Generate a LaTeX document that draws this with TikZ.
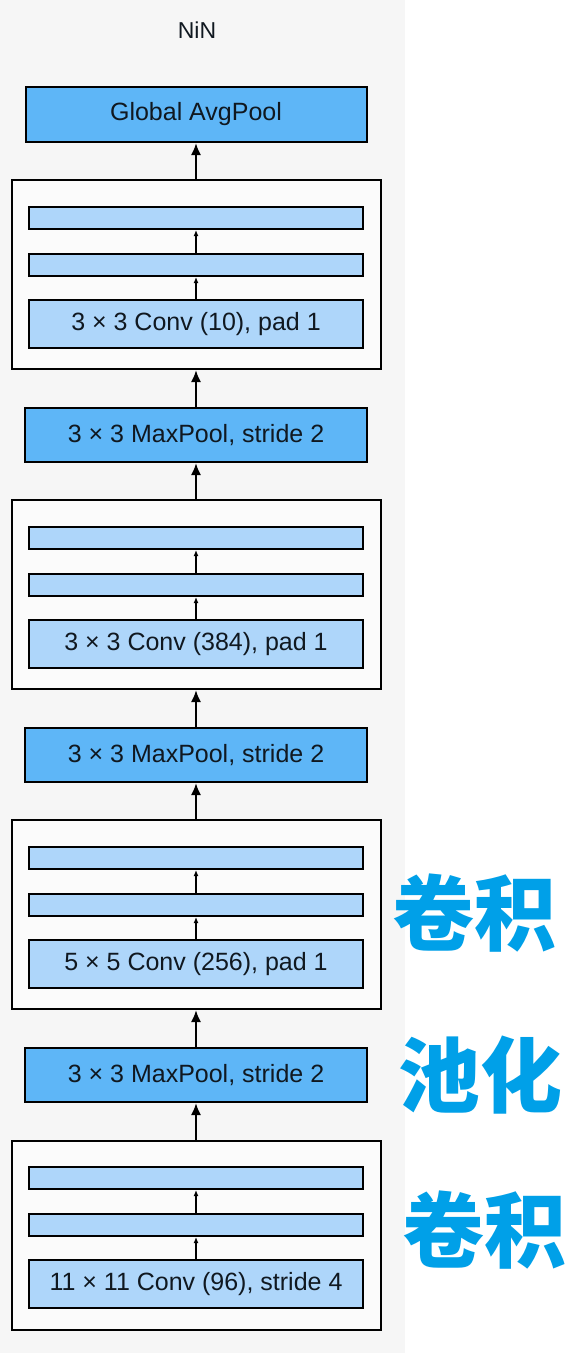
\documentclass[tikz,border=0pt]{standalone}
\usepackage{fontspec}
\setmainfont{Liberation Sans}
\newfontfamily\cjk{Noto Sans CJK SC}
\usetikzlibrary{arrows.meta}
\definecolor{bgray}{HTML}{F6F6F6}
\definecolor{darkb}{HTML}{5EB6F7}
\definecolor{lightb}{HTML}{AED6FA}
\definecolor{txt}{HTML}{101820}
\definecolor{cjkblue}{HTML}{00A0E8}
\tikzset{
  base/.style={draw=black, line width=2pt, inner sep=0pt, text=txt,
    font=\fontsize{25}{29}\selectfont},
  poolbox/.style={base, fill=darkb, minimum width=342pt, minimum height=54pt},
  convbox/.style={base, fill=lightb, minimum width=334pt, minimum height=48pt},
  barbox/.style={base, fill=lightb, minimum width=334pt, minimum height=22pt},
  blockbox/.style={draw=black, line width=2pt, fill=white!60!bgray, inner sep=0pt,
    minimum width=369pt, minimum height=189pt},
  bigarrow/.style={line width=2pt, -{Latex[length=12pt,width=10pt]}},
  smallarrow/.style={line width=1.6pt, -{Latex[length=6pt,width=5pt]}},
  cjklabel/.style={text=cjkblue, font=\cjk\bfseries\fontsize{82}{90}\selectfont, inner sep=0pt}
}
\begin{document}
\begin{tikzpicture}[x=1pt,y=-1pt]
\useasboundingbox (0,0) rectangle (570,1353);
\fill[white] (0,0) rectangle (570,1353);
\fill[bgray] (0,0) rectangle (405,1353);

\node[text=txt, font=\fontsize{23}{27}\selectfont] (title) at (197,30) {NiN};

\node[poolbox, minimum width=341pt, minimum height=55pt] (gap) at (196,114.5) {Global AvgPool};

% block 1
\node[blockbox] (b1) at (196,274.5) {};
\node[barbox] (b1a) at (196,218) {};
\node[barbox] (b1b) at (196,265) {};
\node[convbox] (b1c) at (196,324) {3 × 3 Conv (10), pad 1};

\node[poolbox] (mp1) at (196,435) {3 × 3 MaxPool, stride 2};

% block 2
\node[blockbox] (b2) at (196,594.5) {};
\node[barbox] (b2a) at (196,538) {};
\node[barbox] (b2b) at (196,585) {};
\node[convbox] (b2c) at (196,644) {3 × 3 Conv (384), pad 1};

\node[poolbox] (mp2) at (196,755) {3 × 3 MaxPool, stride 2};

% block 3
\node[blockbox] (b3) at (196,914.5) {};
\node[barbox] (b3a) at (196,858) {};
\node[barbox] (b3b) at (196,905) {};
\node[convbox] (b3c) at (196,964) {5 × 5 Conv (256), pad 1};

\node[poolbox] (mp3) at (196,1075) {3 × 3 MaxPool, stride 2};

% block 4
\node[blockbox] (b4) at (196,1235) {};
\node[barbox] (b4a) at (196,1178) {};
\node[barbox] (b4b) at (196,1225) {};
\node[convbox] (b4c) at (196,1284) {11 × 11 Conv (96), stride 4};

% arrows between stages
\draw[bigarrow] (b4.north) -- (mp3.south);
\draw[bigarrow] (mp3.north) -- (b3.south);
\draw[bigarrow] (b3.north) -- (mp2.south);
\draw[bigarrow] (mp2.north) -- (b2.south);
\draw[bigarrow] (b2.north) -- (mp1.south);
\draw[bigarrow] (mp1.north) -- (b1.south);
\draw[bigarrow] (b1.north) -- (gap.south);

% arrows inside blocks
\foreach \b in {b1,b2,b3,b4}{
  \draw[smallarrow] (\b c.north) -- (\b b.south);
  \draw[smallarrow] (\b b.north) -- (\b a.south);
}

% Chinese annotations
\node[cjklabel] (l1) at (474,913) {卷积};
\node[cjklabel] (l2) at (480,1075) {池化};
\node[cjklabel] (l3) at (484,1230) {卷积};
\end{tikzpicture}
\end{document}
